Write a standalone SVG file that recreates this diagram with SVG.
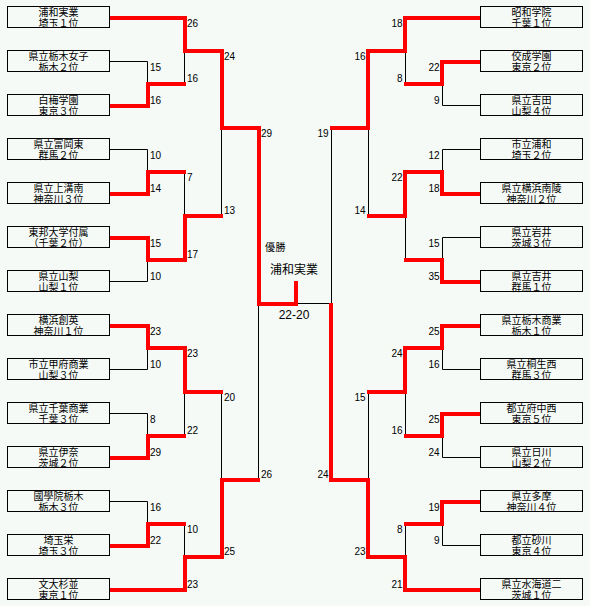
<svg xmlns="http://www.w3.org/2000/svg" width="590" height="606" viewBox="0 0 590 606">
<style>
.bx{fill:#F5FAF7;stroke:#000;stroke-width:1}
.nm{font-family:"Noto Sans CJK JP","Noto Sans CJK SC",sans-serif;font-size:10px;text-anchor:middle;fill:#000}
.sc{font-family:"Liberation Sans",Arial,sans-serif;font-size:10px;fill:#000}
.r{text-anchor:end}
.blk{fill:none;stroke:#000;stroke-width:1}
.red{fill:none;stroke:#f00;stroke-width:4;stroke-linejoin:miter;stroke-linecap:butt}
</style>
<rect width="590" height="606" fill="#F5FAF7"/>
<g id="connectors">
<path class="blk" d="M110 61.5H147.5V83M184.5 50V83M110 149.5H147.5V171M184.5 171V215M110 281.5H147.5V259M221.5 127V215M110 369.5H147.5V347M110 413.5H147.5V435M184.5 391V435M221.5 391V479M110 501.5H147.5V523M184.5 523V556M258.5 303V479M295 303.5H331.5"/>
<path class="blk" d="M480 105.5H442.5V83M405.5 50V83M480 149.5H442.5V171M480 237.5H442.5V259M405.5 215V259M368.5 127V215M480 369.5H442.5V347M480 457.5H442.5V435M405.5 391V435M368.5 391V479M480 545.5H442.5V523M405.5 523V556M331.5 127V303"/>
<path class="red" d="M110 18H185V51H222V128H259V304H296V281"/>
<path class="red" d="M110 106H148V84H186"/>
<path class="red" d="M110 194H148V172H186"/>
<path class="red" d="M110 238H148V260H185V216H223"/>
<path class="red" d="M110 326H148V348H185V392H223"/>
<path class="red" d="M110 458H148V436H186"/>
<path class="red" d="M110 546H148V524H186"/>
<path class="red" d="M110 590H185V557H222V480H260"/>
<path class="red" d="M480 18H405V51H368V128H330"/>
<path class="red" d="M480 62H442V84H404"/>
<path class="red" d="M480 194H442V172H405V216H367"/>
<path class="red" d="M480 282H442V260H404"/>
<path class="red" d="M480 326H442V348H405V392H367"/>
<path class="red" d="M480 414H442V436H404"/>
<path class="red" d="M480 502H442V524H404"/>
<path class="red" d="M480 590H405V557H368V480H331V303"/>
<g class="sc">
<text x="150" y="71">15</text><text x="150" y="104">16</text>
<text x="150" y="159">10</text><text x="150" y="192">14</text>
<text x="150" y="247">15</text><text x="150" y="280">10</text>
<text x="150" y="335">23</text><text x="150" y="368">10</text>
<text x="150" y="423">8</text><text x="150" y="456">29</text>
<text x="150" y="511">16</text><text x="150" y="544">22</text>
<text x="187" y="27">26</text><text x="187" y="82">16</text>
<text x="187" y="181">7</text><text x="187" y="258">17</text>
<text x="187" y="357">23</text><text x="187" y="434">22</text>
<text x="187" y="533">10</text><text x="187" y="588">23</text>
<text x="224" y="60">24</text><text x="224" y="214">13</text>
<text x="224" y="401">20</text><text x="224" y="555">25</text>
<text x="261" y="137">29</text><text x="261" y="478">26</text>
</g>
<g class="sc r">
<text x="439.5" y="71">22</text><text x="439.5" y="104">9</text>
<text x="439.5" y="159">12</text><text x="439.5" y="192">18</text>
<text x="439.5" y="247">15</text><text x="439.5" y="280">35</text>
<text x="439.5" y="335">25</text><text x="439.5" y="368">16</text>
<text x="439.5" y="423">25</text><text x="439.5" y="456">24</text>
<text x="439.5" y="511">19</text><text x="439.5" y="544">9</text>
<text x="402.5" y="27">18</text><text x="402.5" y="82">8</text>
<text x="402.5" y="181">22</text>
<text x="402.5" y="357">24</text><text x="402.5" y="434">16</text>
<text x="402.5" y="533">8</text><text x="402.5" y="588">21</text>
<text x="365.5" y="60">16</text><text x="365.5" y="214">14</text>
<text x="365.5" y="401">15</text><text x="365.5" y="555">23</text>
<text x="328.5" y="137">19</text><text x="328.5" y="478">24</text>
</g>
</g>
<g id="champion">
<text x="265" y="251" style="font-family:'Noto Sans CJK JP',sans-serif;font-size:10px;letter-spacing:0.5px">優勝</text>
<text x="294" y="274" style="font-family:'Noto Sans CJK JP',sans-serif;font-size:12px;text-anchor:middle">浦和実業</text>
<text x="294" y="319" style="font-family:'Liberation Sans',Arial,sans-serif;font-size:12px;text-anchor:middle">22-20</text>
</g>
<g id="L0"><rect class="bx" x="7.5" y="6.5" width="102" height="21"/><text class="nm" x="58.5" y="16">浦和実業</text><text class="nm" x="58.5" y="27">埼玉１位</text></g>
<g id="L1"><rect class="bx" x="7.5" y="50.5" width="102" height="21"/><text class="nm" x="58.5" y="60">県立栃木女子</text><text class="nm" x="58.5" y="71">栃木２位</text></g>
<g id="L2"><rect class="bx" x="7.5" y="94.5" width="102" height="21"/><text class="nm" x="58.5" y="104">白梅学園</text><text class="nm" x="58.5" y="115">東京３位</text></g>
<g id="L3"><rect class="bx" x="7.5" y="138.5" width="102" height="21"/><text class="nm" x="58.5" y="148">県立富岡東</text><text class="nm" x="58.5" y="159">群馬２位</text></g>
<g id="L4"><rect class="bx" x="7.5" y="182.5" width="102" height="21"/><text class="nm" x="58.5" y="192">県立上溝南</text><text class="nm" x="58.5" y="203">神奈川３位</text></g>
<g id="L5"><rect class="bx" x="7.5" y="226.5" width="102" height="21"/><text class="nm" x="58.5" y="236">東邦大学付属</text><text class="nm" x="58.5" y="247">（千葉２位）</text></g>
<g id="L6"><rect class="bx" x="7.5" y="270.5" width="102" height="21"/><text class="nm" x="58.5" y="280">県立山梨</text><text class="nm" x="58.5" y="291">山梨１位</text></g>
<g id="L7"><rect class="bx" x="7.5" y="314.5" width="102" height="21"/><text class="nm" x="58.5" y="324">横浜創英</text><text class="nm" x="58.5" y="335">神奈川１位</text></g>
<g id="L8"><rect class="bx" x="7.5" y="358.5" width="102" height="21"/><text class="nm" x="58.5" y="368">市立甲府商業</text><text class="nm" x="58.5" y="379">山梨３位</text></g>
<g id="L9"><rect class="bx" x="7.5" y="402.5" width="102" height="21"/><text class="nm" x="58.5" y="412">県立千葉商業</text><text class="nm" x="58.5" y="423">千葉３位</text></g>
<g id="L10"><rect class="bx" x="7.5" y="446.5" width="102" height="21"/><text class="nm" x="58.5" y="456">県立伊奈</text><text class="nm" x="58.5" y="467">茨城２位</text></g>
<g id="L11"><rect class="bx" x="7.5" y="490.5" width="102" height="21"/><text class="nm" x="58.5" y="500">國學院栃木</text><text class="nm" x="58.5" y="511">栃木３位</text></g>
<g id="L12"><rect class="bx" x="7.5" y="534.5" width="102" height="21"/><text class="nm" x="58.5" y="544">埼玉栄</text><text class="nm" x="58.5" y="555">埼玉３位</text></g>
<g id="L13"><rect class="bx" x="7.5" y="578.5" width="102" height="21"/><text class="nm" x="58.5" y="588">文大杉並</text><text class="nm" x="58.5" y="599">東京１位</text></g>
<g id="R0"><rect class="bx" x="480.5" y="6.5" width="102" height="21"/><text class="nm" x="531.5" y="16">昭和学院</text><text class="nm" x="531.5" y="27">千葉１位</text></g>
<g id="R1"><rect class="bx" x="480.5" y="50.5" width="102" height="21"/><text class="nm" x="531.5" y="60">佼成学園</text><text class="nm" x="531.5" y="71">東京２位</text></g>
<g id="R2"><rect class="bx" x="480.5" y="94.5" width="102" height="21"/><text class="nm" x="531.5" y="104">県立吉田</text><text class="nm" x="531.5" y="115">山梨４位</text></g>
<g id="R3"><rect class="bx" x="480.5" y="138.5" width="102" height="21"/><text class="nm" x="531.5" y="148">市立浦和</text><text class="nm" x="531.5" y="159">埼玉２位</text></g>
<g id="R4"><rect class="bx" x="480.5" y="182.5" width="102" height="21"/><text class="nm" x="531.5" y="192">県立横浜南陵</text><text class="nm" x="531.5" y="203">神奈川２位</text></g>
<g id="R5"><rect class="bx" x="480.5" y="226.5" width="102" height="21"/><text class="nm" x="531.5" y="236">県立岩井</text><text class="nm" x="531.5" y="247">茨城３位</text></g>
<g id="R6"><rect class="bx" x="480.5" y="270.5" width="102" height="21"/><text class="nm" x="531.5" y="280">県立吉井</text><text class="nm" x="531.5" y="291">群馬１位</text></g>
<g id="R7"><rect class="bx" x="480.5" y="314.5" width="102" height="21"/><text class="nm" x="531.5" y="324">県立栃木商業</text><text class="nm" x="531.5" y="335">栃木１位</text></g>
<g id="R8"><rect class="bx" x="480.5" y="358.5" width="102" height="21"/><text class="nm" x="531.5" y="368">県立桐生西</text><text class="nm" x="531.5" y="379">群馬３位</text></g>
<g id="R9"><rect class="bx" x="480.5" y="402.5" width="102" height="21"/><text class="nm" x="531.5" y="412">都立府中西</text><text class="nm" x="531.5" y="423">東京５位</text></g>
<g id="R10"><rect class="bx" x="480.5" y="446.5" width="102" height="21"/><text class="nm" x="531.5" y="456">県立日川</text><text class="nm" x="531.5" y="467">山梨２位</text></g>
<g id="R11"><rect class="bx" x="480.5" y="490.5" width="102" height="21"/><text class="nm" x="531.5" y="500">県立多摩</text><text class="nm" x="531.5" y="511">神奈川４位</text></g>
<g id="R12"><rect class="bx" x="480.5" y="534.5" width="102" height="21"/><text class="nm" x="531.5" y="544">都立砂川</text><text class="nm" x="531.5" y="555">東京４位</text></g>
<g id="R13"><rect class="bx" x="480.5" y="578.5" width="102" height="21"/><text class="nm" x="531.5" y="588">県立水海道二</text><text class="nm" x="531.5" y="599">茨城１位</text></g>
</svg>
